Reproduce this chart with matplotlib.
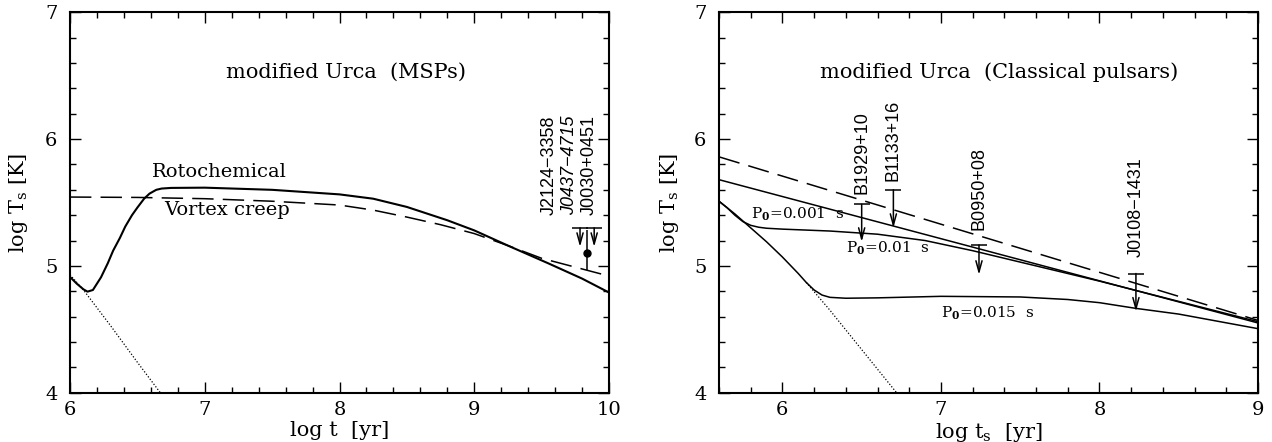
import matplotlib
matplotlib.use("Agg")
import matplotlib.pyplot as plt
from matplotlib.ticker import MultipleLocator

plt.rcParams["mathtext.fontset"] = "dejavuserif"

# ---- left panel: MSPs, modified Urca ----
roto_t = [6.0, 6.05, 6.10, 6.13, 6.17, 6.23, 6.28, 6.32, 6.37, 6.41, 6.46, 6.50,
          6.55, 6.59, 6.64, 6.68, 6.75, 7.0, 7.5, 8.0, 8.25, 8.5, 8.8, 9.0,
          9.25, 9.55, 9.8, 10.0]
roto_T = [4.913, 4.86, 4.815, 4.797, 4.81, 4.91, 5.02, 5.12, 5.22, 5.31, 5.40, 5.46,
          5.53, 5.57, 5.60, 5.61, 5.615, 5.617, 5.60, 5.564, 5.53, 5.465, 5.36, 5.28,
          5.16, 5.02, 4.90, 4.79]

creep_t = [6.0, 6.5, 7.0, 7.5, 8.0, 8.25, 8.5, 8.75, 9.0, 9.25, 9.5, 9.75, 10.0]
creep_T = [5.543, 5.54, 5.53, 5.51, 5.48, 5.44, 5.385, 5.325, 5.255, 5.16, 5.06, 4.99, 4.92]

cool_t = [6.0, 6.1, 6.3, 6.5, 6.67]
cool_T = [4.93, 4.81, 4.53, 4.24, 4.0]

msp_names = ["J2124\u22123358", "J0437\u22124715", "J0030+0451"]
msp_italic = [False, True, False]
msp_label_t = [9.56, 9.71, 9.85]
msp_label_T = [5.40, 5.40, 5.40]

msp_lim_t = [9.785, 9.89]
msp_lim_T = [5.30, 5.30]

j0437_t = [9.84]
j0437_T = [5.10]
j0437_err_lo = [0.13]
j0437_err_hi = [0.18]

# ---- right panel: classical pulsars ----
dash_t = [5.6, 9.0]
dash_T = [5.86, 4.57]

p001_t = [5.6, 9.0]
p001_T = [5.68, 4.55]

p01_t = [5.6, 5.65, 5.7, 5.75, 5.8, 5.85, 5.9, 6.0, 6.3, 6.6, 6.9, 7.2, 7.5,
         8.0, 8.5, 9.0]
p01_T = [5.51, 5.46, 5.40, 5.35, 5.32, 5.305, 5.297, 5.29, 5.275, 5.25, 5.20,
         5.12, 5.03, 4.88, 4.72, 4.56]

p015_t = [5.6, 5.7, 5.8, 5.9, 6.0, 6.1, 6.15, 6.2, 6.25, 6.3, 6.4, 6.6, 7.0,
          7.5, 7.8, 8.0, 8.23, 8.5, 9.0]
p015_T = [5.51, 5.41, 5.30, 5.19, 5.07, 4.94, 4.87, 4.81, 4.77, 4.752, 4.745,
          4.748, 4.76, 4.755, 4.735, 4.71, 4.665, 4.62, 4.505]

cool2_t = [6.15, 6.3, 6.5, 6.72]
cool2_T = [4.87, 4.65, 4.34, 4.0]

psr_names = ["B1929+10", "B1133+16", "B0950+08", "J0108\u22121431"]
psr_t = [6.50, 6.70, 7.24, 8.23]
psr_lim_T = [5.486, 5.60, 5.165, 4.94]
psr_tip_T = [5.19, 5.30, 4.93, 4.64]
psr_label_T = [5.567, 5.67, 5.283, 5.068]

SERIF = "DejaVu Serif"
SANS = "Liberation Sans"


def style_axes(ax, xlim):
    ax.set_xlim(*xlim)
    ax.set_ylim(4, 7)
    ax.xaxis.set_major_locator(MultipleLocator(1))
    ax.xaxis.set_minor_locator(MultipleLocator(0.2))
    ax.yaxis.set_major_locator(MultipleLocator(1))
    ax.yaxis.set_minor_locator(MultipleLocator(0.2))
    ax.tick_params(which="both", direction="in", top=True, right=True,
                   width=1.0, color="k")
    ax.tick_params(which="major", length=8)
    ax.tick_params(which="minor", length=4)
    ax.tick_params(axis="x", pad=6)
    ax.tick_params(axis="y", pad=9)
    for lab in ax.get_xticklabels() + ax.get_yticklabels():
        lab.set_fontfamily(SERIF)
        lab.set_fontsize(14)
    for sp in ax.spines.values():
        sp.set_linewidth(1.5)


def upper_limit(ax, t, T_cap, T_tip):
    ax.plot([t], [T_cap], marker="_", ms=12, mew=1.1, color="k")
    ax.annotate("", xy=(t, T_tip), xytext=(t, T_cap),
                arrowprops=dict(arrowstyle="->,head_length=0.8,head_width=0.22",
                                lw=1.1, color="k", shrinkA=0, shrinkB=0))


fig = plt.figure(figsize=(12.72, 4.42), dpi=100)
ax1 = fig.add_axes([70 / 1272, 1 - 392.7 / 442, 539 / 1272, 380.4 / 442])
ax2 = fig.add_axes([719 / 1272, 1 - 392.7 / 442, 539 / 1272, 380.4 / 442])

# left panel
ax1.plot(roto_t, roto_T, color="k", lw=1.5)
ax1.plot(creep_t, creep_T, color="k", lw=1.1, dashes=(14, 6))
ax1.plot(cool_t, cool_T, color="k", lw=0.9, linestyle=(0, (1, 1.5)))

for t, T in zip(msp_lim_t, msp_lim_T):
    upper_limit(ax1, t, T, T - 0.15)
ax1.errorbar(j0437_t, j0437_T, yerr=[j0437_err_lo, j0437_err_hi], fmt="o",
             ms=5, color="k", elinewidth=1.1, capsize=0)

for name, t, T, it in zip(msp_names, msp_label_t, msp_label_T, msp_italic):
    ax1.text(t, T, name, rotation=90, ha="center", va="bottom",
             family=SANS, fontsize=13, style="italic" if it else "normal")

ax1.text(8.05, 6.53, "modified Urca  (MSPs)", ha="center", va="center",
         family=SERIF, fontsize=15)
ax1.text(6.61, 5.74, "Rotochemical", ha="left", va="center",
         family=SERIF, fontsize=14)
ax1.text(6.70, 5.44, "Vortex creep", ha="left", va="center",
         family=SERIF, fontsize=14)

style_axes(ax1, (6, 10))
ax1.set_xlabel("log t  [yr]", family=SERIF, fontsize=15)
ax1.set_ylabel(r"log T$_{\rm s}$ [K]", family=SERIF, fontsize=15)
ax1.xaxis.set_label_coords(0.5, -0.075)
ax1.yaxis.set_label_coords(-0.075, 0.5)

# right panel
ax2.plot(dash_t, dash_T, color="k", lw=1.1, dashes=(14, 6))
ax2.plot(p001_t, p001_T, color="k", lw=1.1)
ax2.plot(p01_t, p01_T, color="k", lw=1.1)
ax2.plot(p015_t, p015_T, color="k", lw=1.1)
ax2.plot(cool2_t, cool2_T, color="k", lw=0.9, linestyle=(0, (1, 1.5)))

for name, t, Tc, Tt, Tl in zip(psr_names, psr_t, psr_lim_T, psr_tip_T, psr_label_T):
    upper_limit(ax2, t, Tc, Tt)
    ax2.text(t, Tl, name, rotation=90, ha="center", va="bottom",
             family=SANS, fontsize=13)

ax2.text(7.37, 6.53, "modified Urca  (Classical pulsars)", ha="center",
         va="center", family=SERIF, fontsize=15)
ax2.text(5.80, 5.41, r"P$_{\bf 0}$=0.001  s", ha="left", va="center",
         family=SERIF, fontsize=11)
ax2.text(6.40, 5.14, r"P$_{\bf 0}$=0.01  s", ha="left", va="center",
         family=SERIF, fontsize=11)
ax2.text(7.00, 4.625, r"P$_{\bf 0}$=0.015  s", ha="left", va="center",
         family=SERIF, fontsize=11)

style_axes(ax2, (5.6, 9))
ax2.set_xlabel(r"log t$_{\rm s}$  [yr]", family=SERIF, fontsize=15)
ax2.set_ylabel(r"log T$_{\rm s}$ [K]", family=SERIF, fontsize=15)
ax2.xaxis.set_label_coords(0.5, -0.075)
ax2.yaxis.set_label_coords(-0.0705, 0.5)

fig.savefig("out.png", dpi=100)
